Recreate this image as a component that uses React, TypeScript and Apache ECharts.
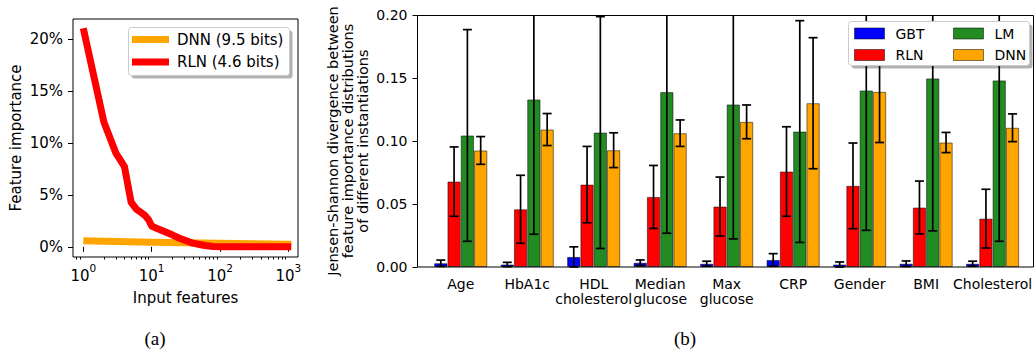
import React, { useEffect, useRef } from 'react';
import * as echarts from 'echarts';

// ---- Panel (a): feature importance vs rank (log x) ----
const rlnX = [1, 2, 3, 4, 5, 6, 7, 8, 9, 10, 12, 15, 20, 25, 30, 40, 50, 60, 80, 100, 1100];
const rlnY = [21.0, 12.0, 9.0, 7.7, 4.3, 3.6, 3.3, 3.0, 2.6, 2.0, 1.75, 1.5, 1.15, 0.85, 0.65, 0.35, 0.22, 0.12, 0.02, 0, 0];
const dnnX = [1, 3, 10, 30, 100, 300, 1100];
const dnnY = [0.58, 0.5, 0.43, 0.38, 0.33, 0.29, 0.25];
const leftYTicks = [0, 5, 10, 15, 20];
const leftXTicks = [1, 10, 100, 1000];

// ---- Panel (b): Jensen-Shannon divergence ----
const categories = ['Age', 'HbA1c', 'HDL\ncholesterol', 'Median\nglucose', 'Max\nglucose', 'CRP', 'Gender', 'BMI', 'Cholesterol'];
const gbtMean = [0.003, 0.002, 0.008, 0.0034, 0.0026, 0.0056, 0.002, 0.0026, 0.0026];
const gbtErr = [0.0025, 0.0017, 0.008, 0.0022, 0.002, 0.005, 0.002, 0.0022, 0.002];
const rlnMean = [0.0678, 0.0458, 0.0654, 0.0556, 0.048, 0.0758, 0.0644, 0.0472, 0.0384];
const rlnErr = [0.0275, 0.027, 0.0303, 0.025, 0.0234, 0.0355, 0.034, 0.021, 0.0233];
const lmMean = [0.1044, 0.133, 0.1067, 0.1388, 0.129, 0.1075, 0.1401, 0.1497, 0.1481];
const lmErr = [0.084, 0.107, 0.092, 0.112, 0.1067, 0.088, 0.111, 0.121, 0.1277];
const dnnMean = [0.0925, 0.1091, 0.0927, 0.1062, 0.1152, 0.13, 0.139, 0.0988, 0.1105];
const dnnErr = [0.011, 0.0127, 0.0138, 0.0105, 0.0134, 0.052, 0.0402, 0.008, 0.011];
const rightTitleLines = ['Jensen-Shannon divergence between', 'feature importance distributions', 'of different instantiations'];

const models = [
  { name: 'GBT', color: '#0000ff', mean: gbtMean, err: gbtErr },
  { name: 'RLN', color: '#ff0000', mean: rlnMean, err: rlnErr },
  { name: 'LM', color: '#228b22', mean: lmMean, err: lmErr },
  { name: 'DNN', color: '#ffa500', mean: dnnMean, err: dnnErr },
];

const FONT = 'DejaVu Sans';

const minorTicks: number[] = [];
for (let e = -1; e <= 3; e++) {
  for (let m = 2; m <= 9; m++) {
    const v = m * Math.pow(10, e);
    if (v > 0.707 && v < 1380) minorTicks.push(v);
  }
}

export default function App() {
  const ref = useRef<HTMLDivElement>(null);
  useEffect(() => {
    const chart = echarts.init(ref.current!, null, { renderer: 'svg' });

    const barSeries = models.map((m) => ({
      type: 'bar',
      name: m.name,
      xAxisIndex: 2,
      yAxisIndex: 1,
      barWidth: '20%',
      barGap: '0%',
      data: m.mean,
      itemStyle: { color: m.color, borderColor: 'rgba(0,0,0,0.5)', borderWidth: 1 },
      z: 2,
    }));

    const errSeries = models.map((m, k) => ({
      type: 'custom',
      name: m.name + ' error',
      xAxisIndex: 2,
      yAxisIndex: 1,
      z: 3,
      encode: { x: 0, y: [1, 2] },
      data: m.mean.map((v, i) => [i, v - m.err[i], v + m.err[i]]),
      renderItem: (params: any, api: any) => {
        const idx = api.value(0);
        const lo = api.value(1);
        const hi = api.value(2);
        const bw = api.size([1, 0])[0];
        const off = (k - 1.5) * bw * 0.2;
        const pLo = api.coord([idx, lo]);
        const pHi = api.coord([idx, hi]);
        const cs = params.coordSys;
        const top = cs.y;
        const bottom = cs.y + cs.height;
        const x = pLo[0] + off;
        const y1 = Math.min(pLo[1], bottom);
        const y2 = Math.max(pHi[1], top);
        const st = { stroke: '#000', lineWidth: 1.7 };
        const children: any[] = [
          { type: 'line', shape: { x1: x, y1, x2: x, y2 }, style: st },
        ];
        if (pHi[1] >= top) children.push({ type: 'line', shape: { x1: x - 4.5, y1: pHi[1], x2: x + 4.5, y2: pHi[1] }, style: st });
        if (pLo[1] <= bottom) children.push({ type: 'line', shape: { x1: x - 4.5, y1: pLo[1], x2: x + 4.5, y2: pLo[1] }, style: st });
        return { type: 'group', children };
      },
    }));

    const titleTexts = rightTitleLines.map((t, i) => ({
      type: 'text', z: 11, x: 333 + i * 15, y: 141, rotation: Math.PI / 2,
      style: { text: t, font: '14.5px "DejaVu Sans"', fill: '#000', align: 'center', verticalAlign: 'middle' },
    }));

    const option: any = {
      animation: false,
      textStyle: { fontFamily: FONT, color: '#000' },
      grid: [
        { left: 73, top: 19, width: 225, height: 238, show: true, borderColor: '#000', borderWidth: 1, backgroundColor: 'transparent' },
        { left: 427.5, top: 15, width: 600, height: 252 },
      ],
      xAxis: [
        {
          type: 'log', logBase: 10, gridIndex: 0, min: 0.707, max: 1380, position: 'bottom',
          axisLine: { show: false },
          axisTick: { customValues: leftXTicks, length: 5, lineStyle: { color: '#000' } },
          axisLabel: {
            customValues: leftXTicks, color: '#000', fontFamily: FONT, margin: 5,
            formatter: (v: number) => '{b|10}{s|' + Math.round(Math.log10(v)) + '}',
            rich: {
              b: { fontSize: 15, lineHeight: 21, verticalAlign: 'bottom', fontFamily: FONT, color: '#000' },
              s: { fontSize: 10.5, lineHeight: 12, verticalAlign: 'top', fontFamily: FONT, color: '#000' },
            },
          },
          splitLine: { show: false },
          name: 'Input features', nameLocation: 'middle', nameGap: 33,
          nameTextStyle: { fontSize: 15, color: '#000', fontFamily: FONT },
        },
        {
          type: 'log', logBase: 10, gridIndex: 0, min: 0.707, max: 1380, position: 'bottom',
          axisLine: { show: false },
          axisTick: { customValues: minorTicks, length: 2.5, lineStyle: { color: '#000' } },
          axisLabel: { show: false },
          splitLine: { show: false },
        },
        {
          type: 'category', gridIndex: 1, data: categories, position: 'bottom',
          axisLine: { show: false },
          axisTick: { alignWithLabel: true, length: 5, lineStyle: { color: '#000' } },
          axisLabel: { interval: 0, fontSize: 14, lineHeight: 15, color: '#000', fontFamily: FONT, margin: 9 },
          splitLine: { show: false },
        },
      ],
      yAxis: [
        {
          type: 'value', gridIndex: 0, min: -0.98, max: 21.9,
          axisLine: { show: false },
          axisTick: { show: true, customValues: leftYTicks, length: 5, lineStyle: { color: '#000' } },
          axisLabel: { customValues: leftYTicks, fontSize: 15, color: '#000', fontFamily: FONT, margin: 10,
            formatter: (v: number) => v + '%' },
          splitLine: { show: false },
          name: 'Feature importance', nameLocation: 'middle', nameGap: 50,
          nameTextStyle: { fontSize: 15, color: '#000', fontFamily: FONT },
        },
        {
          type: 'value', gridIndex: 1, min: 0, max: 0.2, interval: 0.05, offset: 10,
          axisLine: { show: false },
          axisTick: { show: true, length: 5, lineStyle: { color: '#000' } },
          axisLabel: { fontSize: 14, color: '#000', fontFamily: FONT, margin: 10,
            formatter: (v: number) => v.toFixed(2) },
          splitLine: { show: false },
        },
      ],
      legend: [
        {
          data: ['DNN (9.5 bits)', 'RLN (4.6 bits)'], orient: 'vertical', left: 132, top: 31, padding: 0,
          itemWidth: 37, itemHeight: 7, itemGap: 5.4, icon: 'rect', z: 20, selectedMode: false,
          textStyle: { fontSize: 15, lineHeight: 17, color: '#000', fontFamily: FONT, padding: [0, 0, 0, 3] },
        },
        {
          data: ['GBT', 'RLN'], orient: 'vertical', left: 854, top: 25.5, padding: 0,
          itemWidth: 30, itemHeight: 11, itemGap: 5.5, icon: 'rect', z: 20, selectedMode: false,
          itemStyle: { borderColor: 'rgba(0,0,0,0.5)', borderWidth: 1 },
          textStyle: { fontSize: 14, lineHeight: 16, color: '#000', fontFamily: FONT, padding: [0, 0, 0, 6] },
        },
        {
          data: ['LM', 'DNN'], orient: 'vertical', left: 953, top: 25.5, padding: 0,
          itemWidth: 30, itemHeight: 11, itemGap: 5.5, icon: 'rect', z: 20, selectedMode: false,
          itemStyle: { borderColor: 'rgba(0,0,0,0.5)', borderWidth: 1 },
          textStyle: { fontSize: 14, lineHeight: 16, color: '#000', fontFamily: FONT, padding: [0, 0, 0, 6] },
        },
      ],
      graphic: [
        { type: 'rect', z: 9, shape: { x: 417.5, y: 15.5, width: 616, height: 251.5 }, style: { fill: 'none', stroke: '#000', lineWidth: 1 } },
        { type: 'rect', z: 10, shape: { x: 131.5, y: 30.5, width: 161, height: 48, r: 3 }, style: { fill: 'rgba(0,0,0,0.3)' } },
        { type: 'rect', z: 11, shape: { x: 128.5, y: 27.5, width: 161, height: 48, r: 3 }, style: { fill: '#fff', stroke: '#cccccc', lineWidth: 1 } },
        { type: 'rect', z: 10, shape: { x: 851.5, y: 24.5, width: 181, height: 44, r: 3 }, style: { fill: 'rgba(0,0,0,0.3)' } },
        { type: 'rect', z: 11, shape: { x: 848.5, y: 21.5, width: 181, height: 44, r: 3 }, style: { fill: '#fff', stroke: '#cccccc', lineWidth: 1 } },
        ...titleTexts,
        { type: 'text', z: 11, x: 155, y: 338, style: { text: '(a)', font: '19px "Liberation Serif"', fill: '#000', align: 'center', verticalAlign: 'middle' } },
        { type: 'text', z: 11, x: 685, y: 338, style: { text: '(b)', font: '19px "Liberation Serif"', fill: '#000', align: 'center', verticalAlign: 'middle' } },
      ],
      series: [
        {
          type: 'line', name: 'DNN (9.5 bits)', xAxisIndex: 0, yAxisIndex: 0, showSymbol: false, symbol: 'none',
          data: dnnX.map((x, i) => [x, dnnY[i]]), color: '#ffa500',
          lineStyle: { width: 7, color: '#ffa500', join: 'round', cap: 'butt' }, z: 2,
        },
        {
          type: 'line', name: 'RLN (4.6 bits)', xAxisIndex: 0, yAxisIndex: 0, showSymbol: false, symbol: 'none',
          data: rlnX.map((x, i) => [x, rlnY[i]]), color: '#ff0000',
          lineStyle: { width: 7, color: '#ff0000', join: 'round', cap: 'butt' }, z: 3,
        },
        ...barSeries,
        ...errSeries,
      ],
    };
    chart.setOption(option);
    return () => chart.dispose();
  }, []);
  return <div ref={ref} style={{ position: 'absolute', left: 0, top: 0, width: 1035, height: 350 }} />;
}
